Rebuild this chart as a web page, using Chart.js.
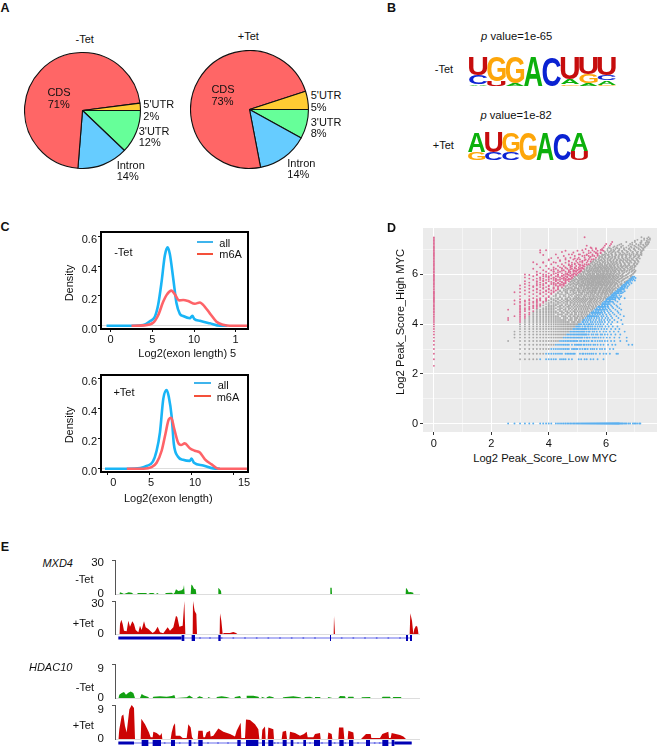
<!DOCTYPE html>
<html>
<head>
<meta charset="utf-8">
<title>m6A panels</title>
<script src="https://cdn.jsdelivr.net/npm/chart.js@4"></script>
<style>
  html, body { margin: 0; background: #fff; }
  #page { position: relative; width: 664px; height: 753px; overflow: hidden; font: 11px "Liberation Sans", Arial, sans-serif; color: #111; }
  #page canvas { position: absolute; }
  .txt { position: absolute; white-space: nowrap; line-height: 1; }
</style>
</head>
<body>
<div id="page"></div>
<script>
// A - pie shares, clockwise from 3 o'clock
const pieLabels = ["3'UTR", 'Intron', 'CDS', "5'UTR"];
const pieMinus = [12, 14, 71, 2];
const piePlus = [8, 14, 73, 5];
const pieColors = ['#66ff99', '#66ccff', '#ff6666', '#ffcc33'];

// B - sequence logos, each position listed top letter first
const logoMinusLetters = ['UCA', 'GU', 'GA', 'A', 'C', 'UAG', 'UGA', 'UCAG'];
const logoMinusHeights = [[.6, .31, .06], [.82, .15], [.87, .1], [.97], [.95], [.74, .17, .06], [.57, .32, .08], [.62, .16, .14, .05]];
const logoPlusLetters = ['AG', 'UC', 'GC', 'G', 'A', 'C', 'AU'];
const logoPlusHeights = [[.68, .28], [.7, .26], [.68, .25], [.95], [.95], [.92], [.62, .32]];
const logoColors = { A: '#0cb00c', C: '#0b22d2', G: '#fda60a', U: '#c60d0d' };

// C - exon length density
const densTicksX = [0, 5, 10, 15];
const densTicksY = [0, .2, .4, .6];
const minusAllX = [-.5, 2.5, 3.9, 4.7, 5.3, 5.7, 6.1, 6.5, 6.84, 7.1, 7.5, 7.9, 8.3, 8.7, 9.5, 9.8, 10.04, 10.7, 11.9, 13.1, 14];
const minusAllY = [0, 0, .004, .03, .06, .14, .29, .47, .525, .48, .32, .15, .08, .065, .05, .067, .045, .033, .016, 0, 0];
const minusM6aX = [2.5, 3.9, 5.1, 5.7, 6.3, 6.7, 7.3, 7.7, 8.2, 8.7, 9.3, 10.1, 10.7, 11.3, 11.9, 12.7, 13.5, 14.3, 16.5];
const minusM6aY = [0, .002, .02, .07, .16, .205, .235, .21, .17, .172, .165, .147, .156, .127, .083, .027, .007, 0, 0];
const plusAllX = [-.3, 2.3, 3.9, 4.66, 5.4, 5.85, 6.25, 6.65, 7.05, 7.3, 7.65, 7.9, 8.4, 9, 9.8, 10, 10.3, 11.4, 12.6, 13.4];
const plusAllY = [0, 0, .004, .018, .047, .12, .243, .468, .525, .48, .345, .165, .08, .06, .052, .068, .04, .022, .002, 0];
const plusM6aX = [2.3, 4.3, 5.25, 5.85, 6.45, 6.9, 7.3, 7.6, 7.9, 8.4, 8.75, 9.2, 9.8, 10.4, 11, 11.6, 12.4, 13.2, 16.6];
const plusM6aY = [0, 0, .011, .04, .12, .232, .33, .34, .277, .175, .158, .169, .137, .12, .108, .063, .029, 0, 0];

// D - peak scores: [high MYC score, [low MYC scores in that row]]
const peakRows = [
  [6, [8,9,10,11,12,13,15,16,17,18,19,21,22,23,24,26,28,33,35,38,40,44,47,52,60]],
  [7, [8,9,10,11,12,13,14,15,16,17,18,19,20,21,22,24,25,26,27,28,29,30,34,36,37,39,41,43,45,47,50,55,60,64,70,82,85]],
  [8, [8,9,10,11,12,13,14,15,16,17,18,19,20,21,22,23,24,25,26,28,29,30,31,32,34,36,38,39,41,44,46,48,51,55,58,62,70,76]],
  [9, [8,9,10,11,12,13,14,15,16,17,18,19,20,21,22,23,24,25,26,28,30,31,32,33,34,35,37,38,40,42,44,47,49,52,56,60,67,74,80,110,120]],
  [10, [6,8,9,10,11,12,13,14,15,16,17,18,19,20,21,22,23,24,25,26,27,28,29,30,31,32,34,35,37,38,40,42,45,46,49,52,55,58,62,66,72,78,90,105]],
  [11, [7,8,9,10,11,12,13,14,15,16,17,18,19,20,21,22,23,24,25,26,27,28,29,30,31,32,33,34,35,36,38,40,41,43,46,48,50,53,56,60,65,70,78,88,105]],
  [12, [7,8,9,10,11,12,13,14,15,16,17,18,19,20,21,22,23,24,25,26,27,28,29,30,31,32,33,34,35,36,37,38,39,40,42,45,47,50,52,56,58,62,66,72,80,90]],
  [13, [7,8,9,10,11,12,13,14,15,16,17,18,19,20,21,22,23,24,25,26,27,28,29,30,31,32,33,34,35,36,37,38,40,42,43,46,48,51,55,60,64,70,77,86,100]],
  [14, [8,9,10,11,12,13,14,15,16,17,18,19,20,21,22,23,24,25,26,27,28,29,30,31,32,33,34,35,36,37,38,39,40,42,44,46,48,50,53,57,61,65,72,80,88]],
  [15, [8,9,10,11,12,13,14,15,16,17,18,19,20,21,22,23,24,25,26,27,28,29,30,31,32,33,34,36,38,39,41,42,44,46,49,52,55,58,63,68,75,84]],
  [16, [8,9,10,11,12,13,14,15,16,17,18,19,20,21,22,23,24,25,26,27,28,29,30,31,32,33,34,35,37,38,40,42,43,45,47,50,53,56,60,66,72,95]],
  [17, [8,9,10,11,12,13,14,15,16,17,18,19,20,21,22,23,24,25,26,28,29,30,32,33,34,36,37,39,41,44,46,49,52,55,58,62,68,74,84]],
  [18, [6,8,9,10,11,12,13,14,15,16,17,18,19,20,21,22,23,24,26,27,28,30,31,33,34,36,37,38,40,42,44,47,50,54,57,61,66,70,78,92]],
  [19, [6,8,9,10,11,12,13,14,15,16,17,18,19,20,21,23,24,25,27,28,30,31,32,34,36,37,39,41,43,45,48,51,54,58,63,67,74,86]],
  [20, [7,8,9,10,11,12,13,14,15,16,17,18,19,20,22,23,24,26,27,29,30,32,33,35,36,38,40,42,44,47,50,53,57,60,65,72,82,98]],
  [21, [8,9,10,11,12,13,14,15,16,17,18,20,21,22,24,25,27,28,30,31,33,35,37,39,41,43,46,49,52,55,59,64,70,78,90]],
  [22, [8,10,11,12,13,14,15,16,17,18,19,20,22,23,25,26,28,30,31,33,35,36,38,40,43,45,48,51,54,58,62,68,75,86]],
  [23, [8,9,11,12,13,14,15,16,17,18,19,21,22,24,25,27,29,30,32,34,36,38,40,42,45,47,50,53,57,61,66,72,84]],
  [24, [6,8,9,10,12,13,14,15,16,17,18,20,21,23,24,26,28,30,31,33,35,37,39,41,44,46,49,52,56,60,65,70,80,92]],
  [25, [8,9,10,11,12,14,15,16,17,18,19,21,22,24,26,27,29,31,33,35,37,39,41,43,46,48,51,55,59,63,68,76,88]],
  [26, [8,10,11,12,13,15,16,17,18,20,21,23,25,26,28,30,32,34,36,38,40,42,45,47,50,53,57,61,67,74,84]],
  [27, [8,9,11,12,13,14,16,17,18,19,21,22,24,26,27,29,31,33,35,37,39,42,44,47,50,54,58,62,66,72,82]],
  [28, [7,9,10,12,13,15,16,18,19,20,22,24,25,27,29,30,32,34,37,39,41,43,46,49,52,56,60,65,70,78,90]],
  [29, [8,10,11,12,14,16,17,18,20,21,23,25,27,28,30,32,34,36,38,41,43,45,48,51,55,59,63,68,76]],
  [30, [8,9,11,12,14,15,17,19,20,22,24,25,27,29,31,33,35,37,39,42,44,47,50,53,57,61,66,72,84]],
  [31, [7,9,10,12,13,15,16,18,19,21,23,25,26,28,30,32,34,36,38,40,43,45,48,51,55,59,64,70,80]],
  [32, [8,10,12,13,15,17,18,20,22,24,25,27,29,31,33,35,37,39,41,44,46,49,52,56,60,64,69,76,88]],
  [33, [11,13,15,17,19,20,22,24,25,27,29,30,32,34,36,37,39,41,43,45,47,49,52,54,57,60,63,67,70,74,80,86,100]],
  [35, [8,10,12,14,16,18,19,21,23,24,26,28,30,31,33,35,37,38,40,42,44,46,48,50,53,55,58,61,64,68,72,76,82,92]],
  [37, [9,11,13,15,17,19,21,22,24,26,28,29,31,33,35,36,38,40,42,44,46,48,51,53,56,58,61,64,67,71,75,81]],
  [39, [7,8,10,12,14,16,18,20,22,24,25,27,29,31,33,34,36,38,40,42,44,46,48,50,53,55,58,60,63,66,70,74,79,86,96]],
  [41, [9,11,13,15,17,19,21,23,25,27,28,30,32,34,36,37,39,41,43,45,47,49,51,54,56,59,61,64,67,71,75,80,90]],
  [43, [8,10,12,14,16,18,20,23,25,26,28,30,32,33,35,37,39,41,42,44,46,48,50,52,55,57,60,63,66,69,73,78,84,97]],
  [45, [9,11,13,15,18,20,22,24,26,28,30,31,33,35,37,38,40,42,44,46,48,50,52,54,57,59,62,65,68,71,75,80,87,100]],
  [47, [8,10,12,14,16,19,21,23,25,27,29,31,33,35,36,38,40,42,44,45,47,49,51,53,56,58,61,63,66,70,73,78,85,94]],
  [49, [9,12,14,17,19,21,23,26,28,30,32,34,36,38,39,41,43,45,47,49,51,53,55,57,60,62,65,68,71,75,79,84,92]],
  [51, [10,13,15,18,20,22,24,27,29,31,33,35,37,39,41,43,45,47,49,51,53,55,58,60,63,66,69,72,76,81,88,100,108]],
  [53, [9,12,14,16,19,21,24,26,28,30,33,35,37,39,41,43,45,47,49,52,54,56,58,61,64,67,70,74,78,84,92,104]],
  [55, [11,13,15,18,20,23,25,28,30,32,34,36,38,40,42,44,46,48,50,52,54,57,59,62,64,67,71,75,80,86,96]],
  [57, [10,12,14,17,19,22,24,26,29,31,34,36,38,40,42,44,46,48,51,53,55,58,60,63,66,69,73,77,82,90,100,112]],
  [59, [9,13,16,18,21,23,25,28,30,33,35,37,39,41,44,46,48,50,52,55,57,60,62,65,68,71,75,80,86,94,106]],
  [61, [11,14,16,19,22,24,27,29,32,34,36,38,41,43,45,47,49,52,54,56,59,61,64,67,70,74,78,83,90,98,116]],
  [63, [10,12,15,17,20,23,26,28,31,33,35,37,40,42,44,46,48,51,53,55,58,60,63,66,69,72,76,81,87,94,104,118]],
  [66, [13,16,19,22,25,27,30,32,34,37,39,41,44,46,48,51,53,56,58,61,64,67,70,74,78,83,89,97,110,124]],
  [69, [12,15,18,21,24,27,29,31,34,36,38,41,43,46,48,51,53,56,59,62,65,68,72,76,81,87,94,104,118,128]],
  [72, [14,17,20,23,26,29,32,35,38,40,42,45,47,50,52,55,58,61,64,67,71,75,80,85,92,100,112,122]],
  [75, [11,16,19,22,25,28,31,34,37,40,43,45,48,50,53,56,59,62,65,69,73,78,83,90,98,108,118]],
  [78, [13,18,21,24,27,30,33,36,40,43,46,49,52,54,57,60,63,67,71,75,80,86,93,102,114,126]],
  [81, [15,20,23,27,31,34,37,41,44,47,50,53,56,59,62,65,69,73,78,84,90,98,108,120,130]],
  [85, [12,17,22,26,30,33,38,42,46,49,52,55,58,62,66,70,74,79,85,92,100,110,124,134]],
  [89, [14,19,24,28,32,36,40,45,48,52,55,59,63,67,72,77,83,90,98,108,118,130]],
  [93, [21,26,31,36,41,47,50,54,58,62,66,71,76,82,89,96,106,116,128,138]],
  [97, [16,24,29,34,39,45,49,53,57,61,66,71,77,83,90,98,108,120,134]],
  [102, [20,27,33,38,43,50,54,58,63,68,74,80,86,94,102,112,124,138]],
  [107, [23,30,36,42,48,54,58,63,68,74,80,87,95,104,116,130,142]],
  [112, [26,33,40,46,52,58,62,68,73,80,88,96,106,118,132,146]],
  [118, [29,37,44,50,56,62,68,74,80,87,96,106,120,134,148]],
  [124, [24,32,42,52,60,66,72,78,86,94,104,116,130,152]],
  [130, [39,50,58,66,72,80,88,98,110,124,140,156]],
  [136, [44,60,68,76,82,92,104,118,134,150,162]],
  [143, [40,62,70,84,96,110,126,140,158,170]],
  [150, [64,72,92,114,132,148,166,176]],
  [158, [74,104,128,150,172,180]],
  [168, [136,160,176,184]],
  [181, [38,150,178]]
];
// second pass over the crowded part of the cloud, between the rows above
const peakRowsDense = [
  [20, [41,43,45,46,48,51]], [22, [45,46,47,49,50,52,53,56]], [24, [50,51,53,54,55,58,62]],
  [26, [53,54,55,56,58,59,60,63,66]], [28, [58,59,61,62,63,66,68]], [30, [62,63,65,67,68,70,75]],
  [32, [65,66,67,68,70,72,74,79]],
  [34, [16,21,26,31,33,38,43,47,51,56,62,66,69,71,72,74,76,78,80,84,90]],
  [36, [19,23,27,32,34,39,44,47,52,57,63,68,73,74,75,76,78,79,82,88]],
  [38, [13,17,20,25,30,35,41,45,49,53,58,62,66,72,77,78,79,80,82,84,86,90,93]],
  [40, [15,18,21,24,29,33,37,43,46,49,54,59,64,69,74,82,84,85,87,90,92,100]],
  [42, [12,16,20,24,29,33,38,41,46,50,55,60,65,70,76,85,87,88,90,92,96,98]],
  [44, [14,18,22,27,31,35,40,43,47,51,56,62,68,74,81,90,91,92,94,95,100,106]],
  [46, [11,16,20,24,29,34,37,41,45,49,53,58,64,70,77,85,93,96,100,102,108]],
  [48, [13,18,22,27,31,35,39,42,46,50,55,59,65,72,80,90,97,99,100,104,112]],
  [50, [15,18,20,23,24,29,33,37,41,44,47,52,56,61,67,74,82,93,102,105,110,118]],
  [52, [12,17,22,27,32,36,39,42,46,50,54,59,64,70,78,87,100,105,106,108,114]],
  [54, [14,19,24,29,33,37,41,45,48,52,57,62,68,75,83,94,108,110,114,120,128]],
  [56, [16,19,21,24,26,27,31,35,39,43,47,50,55,60,65,72,79,88,98,114,118,124]],
  [58, [13,18,23,28,33,37,41,45,49,53,58,63,69,76,84,93,103,116,118,122,130]],
  [60, [15,20,25,30,35,39,43,47,51,55,59,64,70,77,85,95,108,120,122,126]],
  [62, [17,22,27,32,37,41,45,49,53,57,62,68,74,81,91,102,114]],
  [64, [9,12,14,20,25,29,31]],
  [65, [18,24,29,35,39,43,47,52,56,60,65,71,77,85,95,108,122]],
  [68, [20,26,33,37,42,46,50,55,60,66,72,79,88,99,112,126]],
  [70, [18,26,31,34]],
  [71, [22,30,35,40,44,49,54,59,65,71,78,87,96,106,120,130]],
  [74, [18,27,33,38,43,47,52,57,63,68,75,82,90,100,114,126]],
  [76, [22,30,36]],
  [77, [24,35,41,46,51,56,61,66,72,79,87,95,106,120]],
  [80, [28,38,44,49,54,59,65,71,78,85,94,104,116,128]],
  [83, [26,36,43,48,53,58,64,70,77,84,92,102,112,126]],
  [84, [28,34,40]],
  [87, [30,44,50,56,62,68,75,82,90,100,112,126,136]],
  [90, [11,14,18]],
  [91, [34,46,52,60,66,73,80,88,96,104,114,128,140]],
  [92, [26,36,44]],
  [95, [16,21,38,50,56,62,69,76,84,92,102,112,124,136]],
  [98, [32,42,47]],
  [100, [30,54,60,66,72,79,87,96,106,118,132,144]],
  [101, [17,24]],
  [105, [44,56,62,70,78,86,94,104,114,126,140]],
  [108, [38,46,52]],
  [110, [14,40,60,66,74,82,92,102,112,124,138,150]],
  [112, [19,28,34]],
  [115, [52,64,72,80,90,100,112,124,136,150]],
  [116, [42,50,56]],
  [118, [13]],
  [120, [22]],
  [121, [48,62,70,76,84,94,108,122,138,150]],
  [126, [13,15,36,46,58]],
  [127, [56,76,88,100,114,128,146,158]],
  [133, [45,50,70,84,98,112,126,140,156]],
  [140, [78,92,116,130,146,164]],
  [147, [88,120,140,156,172]],
  [155, [120,146,166,178]],
  [164, [128,150,170]],
  [175, [160,172,184]]
];
// peaks seen only with high MYC (low score 1) and only with low MYC (high score 1)
const peaksHighOnly = [5,6,7,8,9,10,11,12,13,14,15,16,17,18,19,20,21,22,23,24,25,26,27,28,29,30,31,32,33,34,35,36,37,38,39,40,42,44,46,48,50,52,54,56,58,60,62,64,67,70,73,76,79,82,85,88,92,96,100,104,108,112,116,120,125,130,135,140,146,152,158,165,172,180];
const peaksLowOnly = [6,7,8,9,10,11,13,14,15,16,17,19,20,21,22,23,24,25,26,27,28,29,30,31,32,33,34,35,36,37,38,39,40,41,42,43,44,45,46,47,48,49,50,51,52,53,54,55,56,57,58,59,60,61,62,63,64,65,66,67,68,69,70,71,72,73,74,75,76,77,78,79,80,81,82,83,84,85,86,87,88,90,92,94,96,99,102,105,110,114,122,126,130,135,142,146];

// E - coverage tracks: position along the locus and read score
const mxdMinusPos = [4,6,12,18,26,32,41,46,56,61,71,84,88,91,96,106,110,114,118,122,141,144,161,166,170,174,181,191,196,198,200,218,220,224,228,233,235,300,301,305,309,310,636,637,641,642,863,864,869,872,878,886,887];
const mxdMinusVal = [0,1.7,1,0,1,1.7,1.3,0,0,1,1,1,0,0,1,1,0,0,1,0,0,1,1.3,0,1.3,4.7,3,3.7,5,8.7,0,0,9.3,8,5,4.7,0,0,6,4.7,3,0,0,6,6,0,0,6,4,1.7,2,1.3,0];
const mxdPlusPos = [4,6,10,14,18,26,31,36,43,48,53,61,66,71,78,83,91,98,104,111,119,126,136,149,156,166,174,178,184,194,199,202,224,225,230,235,237,305,306,310,314,318,336,346,354,358,647,648,651,875,877,882,886,889,894,898,902];
const mxdPlusVal = [0,10,14.3,10,3.3,2.7,13.3,7.3,12.7,10,4,1.7,8.3,4,12.7,6.7,5,2.7,1,2.7,7.3,1.7,.7,6.7,3.3,6.7,18.3,16.7,7.3,8.3,33,0,0,33,23,20,0,0,20.7,13.3,0,1,1,2,1,0,0,18.3,0,0,20.7,13.3,0,5,8.3,7.3,0];
const hdacMinusPos = [1,4,11,18,24,31,38,46,51,66,71,78,91,93,104,106,126,146,161,169,172,176,206,214,221,226,236,244,253,256,269,271,278,294,296,311,326,336,349,351,366,369,384,386,406,421,424,429,431,441,444,446,454,466,468,494,496,526,546,551,559,561,576,586,589,591,606,608,629,631,643,661,666,681,683,689,691,706,708,729,731,756,758,791,794,816,818,824,826,849,851];
const hdacMinusVal = [0,1,1.5,1.8,1,1.6,2,1.5,0,0,1.2,.8,.3,0,0,.4,.5,.4,.6,.9,0,0,.2,.8,.3,0,0,.5,.2,0,0,.3,0,0,.3,.5,.3,0,0,.3,.6,0,0,.7,.7,.4,0,0,.4,0,0,.2,.5,.2,0,0,.2,.5,.2,0,0,.3,.4,0,0,.3,.3,0,0,.3,0,0,.6,.5,0,0,.4,.4,0,0,.2,.3,0,0,.4,.4,0,0,.3,.3,0];
const hdacPlusPos = [1,4,11,16,21,26,34,41,48,51,68,70,81,93,98,104,106,116,126,131,133,158,161,166,171,173,186,194,206,211,218,222,226,239,241,254,256,261,266,276,278,286,301,316,336,351,356,368,370,381,384,396,411,421,424,431,433,441,443,449,451,466,468,491,494,504,507,514,516,531,546,558,566,569,586,591,606,608,629,631,641,643,661,663,676,679,689,691,706,708,729,744,758,760,786,793,811,813,818,821,846,856,864];
const hdacPlusVal = [0,3,7,7.5,4,2,9,10.4,9.5,0,0,6.2,4.5,2,.5,.5,2.2,1.8,1,1.8,0,0,2,4,4.8,1,1,.3,.3,4.5,3.5,.5,0,0,2.5,2.5,.5,.5,2,2.5,.8,1,3.2,2.2,1.5,.8,2.5,5,.3,.3,6,5.8,4.5,3,0,0,2.8,3.8,0,0,3.5,3,0,0,2.2,2.5,0,0,2.2,1.8,1,1.5,2.2,.5,.5,1.5,1.8,0,0,2,1.5,0,0,3.5,3.5,0,0,2.5,2,0,0,1.5,1.5,.3,.3,1.5,2.2,.3,.3,1.8,1.2,.8,0];

// E - gene models as [start, end] spans
const mxdIntron = [[199, 882]];
const mxdUtr = [[1, 191]];
const mxdExons = [[191, 199], [221, 231], [301, 308], [636, 639], [864, 870], [876, 882]];
const mxdMarks = [246, 276, 311, 346, 381, 416, 451, 486, 521, 556, 591, 671, 706, 741, 776, 811, 846];
const hdacIntron = [[48, 881]];
const hdacUtr = [[1, 48], [829, 881]];
const hdacExons = [[71, 91], [104, 129], [159, 171], [212, 220], [241, 254], [358, 368], [384, 421], [432, 441], [451, 466], [494, 506], [518, 526], [556, 564], [588, 606], [631, 641], [664, 677], [693, 706], [744, 756], [793, 811], [821, 829]];
const hdacMarks = [140, 185, 230, 270, 300, 330, 470, 480, 540, 576, 612, 650, 682, 720, 770, 785, 840, 860];

const FONT = '"Liberation Sans", Arial, sans-serif';
Chart.defaults.font.family = FONT;
Chart.defaults.font.size = 11;
Chart.defaults.color = '#111';
Chart.defaults.animation = false;
Chart.defaults.responsive = false;
Chart.defaults.layout.autoPadding = false;
Chart.defaults.plugins.legend.display = false;
Chart.defaults.plugins.tooltip.enabled = false;

const page = document.getElementById('page');

function addCanvas(x, y, w, h) {
  const c = document.createElement('canvas');
  c.width = w;
  c.height = h;
  c.style.left = x + 'px';
  c.style.top = y + 'px';
  page.appendChild(c);
  return c;
}

// text placed by its centre, or by left edge when opts.left is set
function addText(text, x, y, opts = {}) {
  const d = document.createElement('div');
  d.className = 'txt';
  d.innerHTML = text;
  d.style.left = x + 'px';
  d.style.top = y + 'px';
  d.style.fontSize = (opts.size || 11) + 'px';
  if (opts.bold) d.style.fontWeight = 'bold';
  if (opts.italic) d.style.fontStyle = 'italic';
  let tf = opts.left ? 'translateY(-50%)' : 'translate(-50%,-50%)';
  if (opts.rotate) tf += ' rotate(' + opts.rotate + 'deg)';
  d.style.transform = tf;
  page.appendChild(d);
}

function addLegendLine(x1, x2, y, color) {
  const d = document.createElement('div');
  d.style.cssText = `position:absolute;left:${x1}px;top:${y - 1}px;width:${x2 - x1}px;height:2.4px;background:${color}`;
  page.appendChild(d);
}

// keep the plot area where the layout padding puts it, tick labels may overhang
const pinHeight = h => s => { s.height = h; s.paddingLeft = 0; s.paddingRight = 0; };
const pinWidth = w => s => { s.width = w; s.paddingTop = 0; s.paddingBottom = 0; };

// ---- A: pies ----
function drawPie(x, y, size, values) {
  new Chart(addCanvas(x, y, size, size), {
    type: 'pie',
    data: {
      labels: pieLabels,
      datasets: [{ data: values, backgroundColor: pieColors, borderColor: '#111', borderWidth: 1.1, borderAlign: 'center' }]
    },
    options: { rotation: 90, layout: { padding: 0 } }
  });
}
drawPie(24, 52, 117, pieMinus);
drawPie(190, 50, 119, piePlus);

addText('A', 5, 8, { bold: true, size: 12.5 });
addText('-Tet', 84.7, 39);
addText('+Tet', 248.3, 35.7);
addText('CDS', 59, 91.7);
addText('71%', 58.7, 104);
addText("5'UTR", 143.3, 104.3, { left: true });
addText('2%', 143.3, 115.7, { left: true });
addText("3'UTR", 138.7, 130.7, { left: true });
addText('12%', 138.7, 141.7, { left: true });
addText('Intron', 116.7, 165, { left: true });
addText('14%', 116.7, 176, { left: true });
addText('CDS', 223, 89);
addText('73%', 222.5, 101);
addText("5'UTR", 310.7, 95, { left: true });
addText('5%', 310.7, 106.7, { left: true });
addText("3'UTR", 310.7, 122.3, { left: true });
addText('8%', 310.7, 133.3, { left: true });
addText('Intron', 287.3, 162.7, { left: true });
addText('14%', 287.3, 174, { left: true });

// ---- B: logos, stacked bars with the letter stretched into each bar ----
const logoLetterPlugin = (letters) => ({
  id: 'logoLetters',
  afterDatasetsDraw(chart) {
    const ctx = chart.ctx;
    ctx.save();
    ctx.font = 'bold 100px ' + FONT;
    chart.data.datasets.forEach((ds, level) => {
      chart.getDatasetMeta(level).data.forEach((bar, i) => {
        if (!ds.data[i]) return;
        const stack = letters[i];
        const letter = stack[stack.length - 1 - level];
        const m = ctx.measureText(letter);
        const w = m.actualBoundingBoxLeft + m.actualBoundingBoxRight;
        const h = m.actualBoundingBoxAscent + m.actualBoundingBoxDescent;
        const bw = bar.width, bh = Math.abs(bar.base - bar.y);
        ctx.save();
        ctx.translate(bar.x - bw / 2, bar.y);
        ctx.scale(bw / w, bh / h);
        ctx.fillStyle = logoColors[letter];
        ctx.fillText(letter, m.actualBoundingBoxLeft, m.actualBoundingBoxAscent);
        ctx.restore();
      });
    });
    ctx.restore();
  }
});

function drawLogo(x, y, w, h, letters, heights) {
  const levels = Math.max(...heights.map(s => s.length));
  const datasets = [];
  for (let l = 0; l < levels; l++) {
    datasets.push({
      data: heights.map(s => s[s.length - 1 - l] || 0),
      backgroundColor: 'transparent',
      barPercentage: 1,
      categoryPercentage: 1
    });
  }
  new Chart(addCanvas(x, y, w, h), {
    type: 'bar',
    data: { labels: letters.map((s, i) => i + 1), datasets },
    options: {
      layout: { padding: 0 },
      scales: {
        x: { display: false, stacked: true },
        y: { display: false, stacked: true, min: 0, max: 1 }
      }
    },
    plugins: [logoLetterPlugin(letters)]
  });
}
drawLogo(469, 56, 147, 30, logoMinusLetters, logoMinusHeights);
drawLogo(468, 131, 120, 29, logoPlusLetters, logoPlusHeights);

addText('B', 391.5, 7.5, { bold: true, size: 12.5 });
addText('<i>p</i> value=1e-65', 516.7, 37.3, { size: 11.2 });
addText('<i>p</i> value=1e-82', 516, 116, { size: 11.2 });
addText('-Tet', 444, 69);
addText('+Tet', 443.3, 145);

// ---- C: densities ----
const boxFrame = {
  id: 'boxFrame',
  afterDraw(chart) {
    const a = chart.chartArea, ctx = chart.ctx;
    ctx.save();
    ctx.strokeStyle = '#000';
    ctx.lineWidth = 2;
    ctx.strokeRect(a.left, a.top, a.right - a.left, a.bottom - a.top);
    ctx.restore();
  }
};

const toPoints = (xs, ys) => xs.map((x, i) => ({ x, y: ys[i] }));

function drawDensity(canvasTop, xRange, yRange, allX, allY, m6aX, m6aY, xLabel, showXLabels, yShift) {
  new Chart(addCanvas(70, canvasTop, 180, 127), {
    type: 'line',
    data: {
      datasets: [
        // lower order is painted last, m6A sits over all
        { data: toPoints(allX, allY), order: 2, borderColor: '#19b5f6', borderWidth: 2.6, pointRadius: 0, cubicInterpolationMode: 'monotone' },
        { data: toPoints(m6aX, m6aY), order: 1, borderColor: '#fe6368', borderWidth: 2.6, pointRadius: 0, cubicInterpolationMode: 'monotone' }
      ]
    },
    options: {
      layout: { padding: { top: 6, right: 2 } },
      scales: {
        x: {
          type: 'linear',
          min: xRange[0],
          max: xRange[1],
          border: { display: false },
          grid: { drawOnChartArea: false, tickLength: 3, tickColor: '#111' },
          ticks: { display: showXLabels, padding: 1, maxRotation: 0, autoSkip: false, callback: xLabel },
          afterBuildTicks: s => { s.ticks = densTicksX.map(value => ({ value })); },
          afterFit: pinHeight(24)
        },
        y: {
          min: yRange[0],
          max: yRange[1],
          border: { display: false },
          grid: { color: c => c.tick.value === 0 ? '#ddd' : 'transparent', tickLength: 3, tickColor: '#111' },
          ticks: { padding: 1, labelOffset: yShift, autoSkip: false, callback: v => v.toFixed(1) },
          afterBuildTicks: s => { s.ticks = densTicksY.map(value => ({ value })); },
          afterFit: pinWidth(31)
        }
      }
    },
    plugins: [boxFrame]
  });
}

drawDensity(226, [-1.16, 16.48], [-.022, .628], minusAllX, minusAllY, minusM6aX, minusM6aY,
  v => v === 15 ? '1' : v, true, 4);
drawDensity(369, [-.77, 16.73], [-.022, .626], plusAllX, plusAllY, plusM6aX, plusM6aY,
  v => v, false, 3);

addText('C', 5, 226.7, { bold: true, size: 12.5 });
addText('-Tet', 123.3, 251.7);
addLegendLine(196.7, 213.3, 241.7, '#3fb4ec');
addLegendLine(196.7, 213.3, 254, '#f4503a');
addText('all', 219.3, 243.3, { left: true });
addText('m6A', 219.3, 254.3, { left: true });
addText('Density', 69.3, 283.3, { rotate: -90 });
addText('Log2(exon length) 5', 187.3, 353.3);

addText('+Tet', 124, 392.3);
addLegendLine(194, 210.7, 382.7, '#3fb4ec');
addLegendLine(194, 210.7, 395.7, '#f4503a');
addText('all', 217.7, 385, { left: true });
addText('m6A', 216.7, 397.3, { left: true });
addText('Density', 69.3, 425, { rotate: -90 });
addText('0', 113.3, 482.3);
addText('5', 151, 482.3);
addText('10', 195, 482.3);
addText('15', 244, 482.3);
addText('Log2(exon length)', 168.3, 498.3);

// ---- D: scatter ----
const unchanged = [], upHigh = [], upLow = [];
function addPeak(low, high) {
  const p = { x: Math.log2(low), y: Math.log2(high) };
  if (high / low > 2) upHigh.push(p);
  else if (low / high > 2) upLow.push(p);
  else unchanged.push(p);
}
peakRows.concat(peakRowsDense).forEach(([high, lows]) => lows.forEach(low => addPeak(low, high)));
peaksHighOnly.forEach(high => addPeak(1, high));
peaksLowOnly.forEach(low => addPeak(low, 1));

const oddTick = c => Math.abs(c.tick.value % 2) === 1;
const scatterAxis = (min, max, fit) => ({
  min, max,
  border: { display: false },
  grid: {
    color: '#fff',
    lineWidth: c => oddTick(c) ? .5 : 1,
    tickLength: 3,
    tickColor: c => oddTick(c) ? 'transparent' : '#333'
  },
  ticks: { stepSize: 1, includeBounds: false, padding: 2, autoSkip: false, maxRotation: 0, callback: v => v % 2 === 0 ? v : '' },
  afterFit: fit
});

new Chart(addCanvas(393, 224, 264, 224), {
  type: 'scatter',
  data: {
    datasets: [
      { data: unchanged, order: 3, backgroundColor: '#a9a9a9', pointRadius: .95, borderWidth: 0 },
      { data: upHigh, order: 2, backgroundColor: '#dd6a94', pointRadius: .95, borderWidth: 0 },
      { data: upLow, order: 1, backgroundColor: '#5cb0f0', pointRadius: .95, borderWidth: 0 }
    ]
  },
  options: {
    layout: { padding: { top: 4 } },
    scales: {
      x: scatterAxis(-.38, 7.77, pinHeight(16)),
      y: scatterAxis(-.34, 7.87, pinWidth(30))
    }
  },
  plugins: [{
    id: 'panelBg',
    beforeDraw(chart) {
      const a = chart.chartArea;
      chart.ctx.fillStyle = '#ebebeb';
      chart.ctx.fillRect(a.left, a.top, a.right - a.left, a.bottom - a.top);
    }
  }]
});

addText('D', 391.5, 228, { bold: true, size: 12.5 });
addText('Log2 Peak_Score_High MYC', 401, 321.7, { rotate: -90, size: 11.2 });
addText('Log2 Peak_Score_Low MYC', 545, 459, { size: 11.2 });

// ---- E: tracks ----
function drawTrack(axisTop, axisBottom, yMax, yLabel, pos, vals, color) {
  new Chart(addCanvas(85, axisTop - 8, 335, axisBottom - axisTop + 16), {
    type: 'line',
    data: { datasets: [{ data: toPoints(pos, vals), borderWidth: 0, pointRadius: 0, tension: 0, fill: 'origin', backgroundColor: color }] },
    options: {
      layout: { padding: { top: 8 } },
      scales: {
        x: {
          type: 'linear',
          min: -9,
          max: 906,
          border: { color: '#ddd', width: 1 },
          grid: { display: false },
          ticks: { display: false },
          afterFit: pinHeight(8)
        },
        y: {
          min: 0,
          max: yMax,
          border: { color: '#555', width: 1 },
          grid: {
            drawOnChartArea: false,
            tickLength: 3,
            tickColor: c => c.tick.value === yMax ? '#555' : 'transparent'
          },
          ticks: { padding: 8, autoSkip: false, font: { size: 11.5 }, callback: v => v === yMax ? '' : v },
          afterBuildTicks: s => { s.ticks = [0, yLabel, yMax].map(value => ({ value })); },
          afterFit: pinWidth(30)
        }
      }
    }
  });
}

const spanPoints = spans => {
  const pts = [];
  spans.forEach(([a, b]) => { pts.push({ x: a, y: 0 }, { x: b, y: 0 }, { x: b, y: null }); });
  return pts;
};

function drawGene(y, intron, utr, exons, marks) {
  new Chart(addCanvas(115, y - 6, 305, 12), {
    type: 'line',
    data: {
      datasets: [
        { data: spanPoints(intron), order: 4, borderColor: '#b4b6f5', borderWidth: 2, pointRadius: 0, tension: 0, borderCapStyle: 'butt' },
        { data: marks.map(x => ({ x, y: 0 })), order: 3, showLine: false, pointRadius: 1, backgroundColor: '#6f73e6', borderWidth: 0 },
        { data: spanPoints(utr), order: 2, borderColor: '#0000b4', borderWidth: 3, pointRadius: 0, tension: 0, borderCapStyle: 'butt' },
        { data: spanPoints(exons), order: 1, borderColor: '#0000b4', borderWidth: 6, pointRadius: 0, tension: 0, borderCapStyle: 'butt' }
      ]
    },
    options: {
      layout: { padding: 0 },
      scales: {
        x: { type: 'linear', display: false, min: -9, max: 906 },
        y: { display: false, min: -1, max: 1 }
      }
    }
  });
}

drawTrack(560, 594, 33, 30, mxdMinusPos, mxdMinusVal, '#12a012');
drawTrack(601, 634, 33, 30, mxdPlusPos, mxdPlusVal, '#cc0505');
drawGene(637.7, mxdIntron, mxdUtr, mxdExons, mxdMarks);
drawTrack(664, 698, 10.4, 9, hdacMinusPos, hdacMinusVal, '#12a012');
drawTrack(705, 739, 10.4, 9, hdacPlusPos, hdacPlusVal, '#cc0505');
drawGene(742.7, hdacIntron, hdacUtr, hdacExons, hdacMarks);

addText('E', 5, 547, { bold: true, size: 12.5 });
addText('MXD4', 57.7, 563.3, { italic: true });
addText('-Tet', 84.3, 579);
addText('+Tet', 83.3, 623.3);
addText('HDAC10', 50.7, 667.3, { italic: true });
addText('-Tet', 85, 686.7);
addText('+Tet', 83.3, 725);
</script>
</body>
</html>
